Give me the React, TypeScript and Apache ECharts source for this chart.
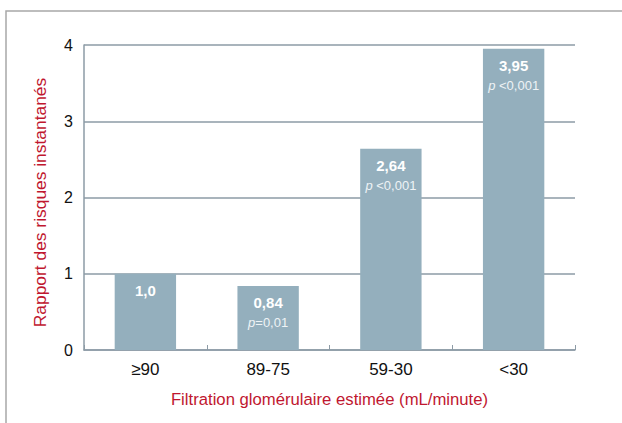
import React, { useEffect, useRef } from "react";
import * as echarts from "echarts";

const categories = ["≥90", "89-75", "59-30", "<30"];
const hazardRatios = [1.0, 0.84, 2.64, 3.95];
const valueLabels = ["1,0", "0,84", "2,64", "3,95"];
const pPrefix = ["", "p", "p", "p"];
const pValues = ["", "=0,01", " <0,001", " <0,001"];
const yTicks = [0, 1, 2, 3, 4];

const RED = "#c0172f";
const BAR = "#94afbd";
const GRID = "#8d9ba6";
const FONT = "'Liberation Sans', Arial, sans-serif";

export default function App() {
  const ref = useRef<HTMLDivElement>(null);
  useEffect(() => {
    if (!ref.current) return;
    const chart = echarts.init(ref.current, undefined, { renderer: "svg" });
    chart.setOption({
      animation: false,
      backgroundColor: "#ffffff",
      textStyle: { fontFamily: FONT },
      graphic: [
        {
          type: "rect",
          shape: { x: 6, y: 11, width: 800, height: 600 },
          style: { fill: "none", stroke: "#a8a8a8", lineWidth: 1.5 },
          silent: true,
        },
      ],
      grid: { left: 84, right: 47, top: 45, bottom: 73 },
      xAxis: {
        type: "category",
        data: categories,
        axisLine: { show: true, lineStyle: { color: GRID, width: 1.5 } },
        axisTick: { show: true, inside: true, length: 5, alignWithLabel: false, lineStyle: { color: GRID } },
        axisLabel: { color: "#111", fontSize: 17, fontFamily: FONT, margin: 11 },
        name: "Filtration glomérulaire estimée (mL/minute)",
        nameLocation: "middle",
        nameGap: 41,
        nameTextStyle: { color: RED, fontSize: 16.7, fontFamily: FONT },
      },
      yAxis: {
        type: "value",
        min: yTicks[0],
        max: yTicks[yTicks.length - 1],
        interval: 1,
        axisLine: { show: true, lineStyle: { color: GRID, width: 1.5 } },
        axisTick: { show: false },
        splitLine: { show: true, lineStyle: { color: GRID, width: 1.5 } },
        axisLabel: { color: "#111", fontSize: 16, fontFamily: FONT, margin: 11 },
        name: "Rapport des risques instantanés",
        nameLocation: "middle",
        nameGap: 36,
        nameRotate: 90,
        nameTextStyle: { color: RED, fontSize: 17.4, fontFamily: FONT, padding: [0, 10, 0, 0] },
      },
      series: [
        {
          type: "bar",
          data: hazardRatios,
          barWidth: "50%",
          itemStyle: { color: BAR },
          label: {
            show: true,
            position: "insideTop",
            distance: 6,
            formatter: (p: any) => {
              const i = p.dataIndex;
              let s = `{v|${valueLabels[i]}}`;
              if (pPrefix[i]) s += `\n{pi|${pPrefix[i]}}{pv|${pValues[i]}}`;
              return s;
            },
            rich: {
              v: { color: "#ffffff", fontSize: 15, fontWeight: "bold", fontFamily: FONT, lineHeight: 21 },
              pi: { color: "#eef3f6", fontSize: 13, fontStyle: "italic", fontFamily: FONT, lineHeight: 20 },
              pv: { color: "#eef3f6", fontSize: 13, fontFamily: FONT, lineHeight: 20 },
            },
          },
        },
      ],
    });
    return () => chart.dispose();
  }, []);
  return (
    <div
      ref={ref}
      style={{ position: "fixed", left: 0, top: 0, width: 622, height: 423 }}
    />
  );
}
